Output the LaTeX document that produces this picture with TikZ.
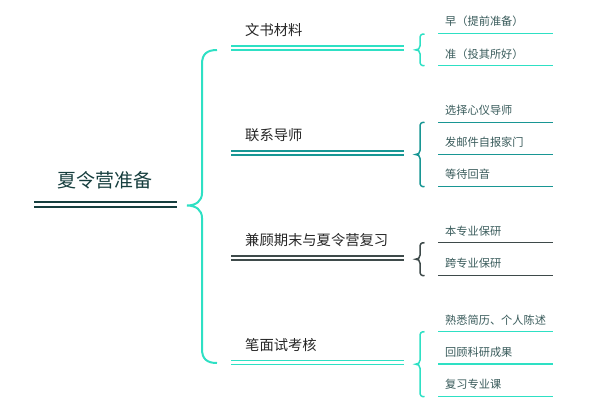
\documentclass[tikz,border=0pt]{standalone}
\usepackage{fontspec}
\newfontfamily\cjk{Noto Sans CJK SC}
\definecolor{turq}{RGB}{46,224,196}
\definecolor{tealdk}{RGB}{24,150,148}
\definecolor{slate}{RGB}{62,74,74}
\definecolor{deep}{RGB}{22,62,62}
\tikzset{
  topic/.style={anchor=west, inner sep=0pt, font=\cjk\fontsize{14.3}{16}\selectfont, text=black!85},
  leaf/.style={anchor=west, inner sep=0pt, font=\cjk\fontsize{11.2}{13}\selectfont, text=deep!85},
  dbl/.style={line width=1.7pt, double distance=2.4pt},
  under/.style={line width=1.5pt},
}

\begin{document}
\begin{tikzpicture}[x=1pt, y=-1pt]
  \useasboundingbox (0,0) rectangle (610,416);
  % root
  \node[inner sep=0pt, font=\cjk\fontsize{19}{22}\selectfont, text=deep] (root) at (105,180.5) {夏令营准备};
  \coordinate (rootL) at (34,204.3);
  \coordinate (rootR) at (177,204.3);
  \draw[deep, line width=2.3pt, double distance=2.6pt] (rootL) -- (rootR);
  % big brace
  \draw[turq, line width=2pt] (217,50) .. controls (207,50) and (202,54) .. (202,64)
    -- (202,193) .. controls (202,201) and (196,205.5) .. (187,205.5)
    .. controls (196,205.5) and (202,210) .. (202,218)
    -- (202,349) .. controls (202,359) and (207,363) .. (217,363);
  % topics
  \foreach \y/\ly/\c/\name/\txt in {30/48/turq/wenshu/{文书材料},
      135/153/tealdk/lianxi/{联系导师},
      240/258/slate/jiangu/{兼顾期末与夏令营复习},
      345/362.5/turq/bimian/{笔面试考核}}{
    \node[topic] (\name) at (245,\y) {\txt};
    \draw[dbl, \c] (231,\ly) -- (404,\ly);
  }
  % small braces
  \foreach \t/\b/\c in {34/65.7/turq, 122.3/186.7/tealdk, 242.7/275.7/slate, 331.7/396.7/turq}{
    \pgfmathsetmacro\m{(\t+\b)/2}
    \draw[\c, line width=1.5pt] (424.5,\t) .. controls (421,\t) and (420,\t+1) .. (420,\t+5)
      -- (420,\m-4) .. controls (420,\m-1) and (418,\m) .. (415.5,\m)
      .. controls (418,\m) and (420,\m+1) .. (420,\m+4)
      -- (420,\b-5) .. controls (420,\b-1) and (421,\b) .. (424.5,\b);
  }
  % leaves
  \foreach \y/\ly/\c/\txt [count=\i] in {21/33.3/turq/{早（提前准备）},
      54/65.7/turq/{准（投其所好）},
      110.5/122.3/tealdk/{选择心仪导师},
      142.5/154.3/tealdk/{发邮件自报家门},
      174/186.7/tealdk/{等待回音},
      231/242.7/slate/{本专业保研},
      263/275.7/slate/{跨专业保研},
      320/331.7/turq/{熟悉简历、个人陈述},
      352.5/364/turq/{回顾科研成果},
      384/396.7/turq/{复习专业课}}{
    \node[leaf] (leaf\i) at (445,\y) {\txt};
    \draw[under, \c] (438,\ly) -- (553,\ly);
  }
\end{tikzpicture}
\end{document}
